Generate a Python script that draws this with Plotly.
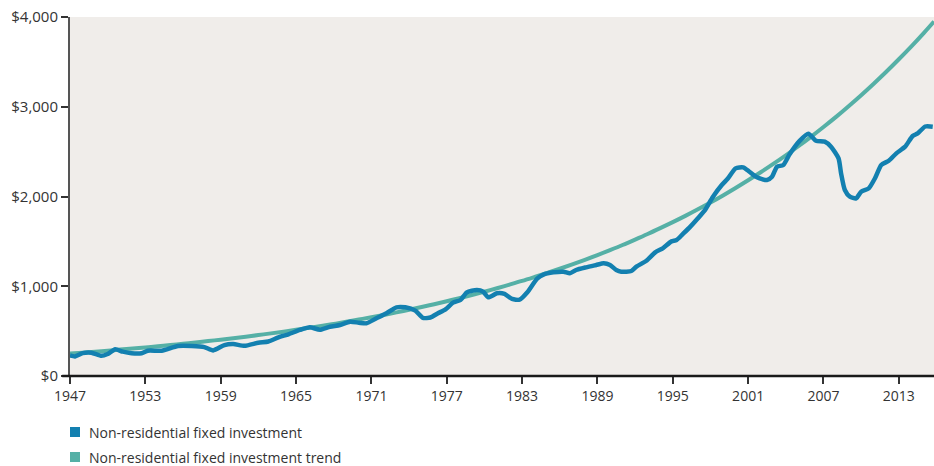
import plotly.graph_objects as go

# --- Data ($bn) ---
actual_years = [
    1947.0, 1947.4, 1948.0, 1948.7, 1949.5, 1950.0, 1950.6, 1951.2, 1951.9, 1952.7,
    1953.2, 1954.3, 1955.6, 1956.7, 1957.7, 1958.4, 1959.3, 1960.0, 1960.9, 1962.0,
    1962.8, 1963.6, 1964.4, 1965.3, 1966.1, 1966.9, 1967.7, 1968.5, 1969.3, 1970.0,
    1970.6, 1971.4, 1972.2, 1973.0, 1973.7, 1974.5, 1975.1, 1975.7, 1976.3, 1976.9,
    1977.5, 1978.1, 1978.6, 1979.4, 1979.9, 1980.3, 1981.0, 1981.6, 1982.2, 1982.8,
    1983.4, 1984.2, 1984.7, 1985.5, 1986.3, 1986.8, 1987.3, 1988.1, 1988.9, 1989.5,
    1990.0, 1990.5, 1990.9, 1991.7, 1992.1, 1992.9, 1993.6, 1994.2, 1994.9, 1995.3,
    1995.8, 1996.4, 1997.0, 1997.6, 1998.2, 1998.9, 1999.4, 2000.0, 2000.6, 2001.1,
    2001.7, 2002.5, 2002.9, 2003.3, 2003.8, 2004.3, 2005.1, 2005.8, 2006.4, 2007.1,
    2007.6, 2008.2, 2008.4, 2008.7, 2009.1, 2009.6, 2010.0, 2010.6, 2011.1, 2011.6,
    2012.2, 2012.8, 2013.5, 2014.1, 2014.5, 2015.1, 2015.7,
]
actual_values = [
    228, 218, 255, 260, 225, 245, 297, 271, 253, 253,
    282, 282, 334, 334, 322, 285, 345, 356, 336, 371,
    385, 431, 465, 513, 543, 515, 549, 568, 605, 594,
    587, 643, 699, 765, 765, 728, 648, 652, 699, 743,
    817, 847, 932, 958, 939, 877, 921, 914, 858, 850,
    930, 1085, 1130, 1155, 1162, 1144, 1181, 1211, 1237, 1256,
    1237, 1181, 1162, 1170, 1218, 1285, 1378, 1423, 1500, 1515,
    1582, 1664, 1757, 1857, 1998, 2128, 2203, 2314, 2325, 2276,
    2214, 2184, 2221, 2332, 2351, 2470, 2620, 2700, 2622, 2611,
    2555, 2425, 2258, 2072, 1998, 1979, 2053, 2090, 2203, 2351,
    2399, 2481, 2555, 2674, 2704, 2780, 2778,
]

trend_years = list(range(1947, 2016)) + [2015.8]
trend_values = [
    250, 260, 271, 282, 294, 306, 318, 331, 345, 359,
    373, 389, 405, 421, 438, 456, 475, 494, 515, 536,
    558, 580, 604, 629, 655, 681, 709, 738, 769, 800,
    833, 867, 902, 939, 978, 1018, 1059, 1103, 1148, 1195,
    1244, 1295, 1348, 1403, 1460, 1520, 1582, 1647, 1714, 1784,
    1857, 1933, 2012, 2095, 2181, 2270, 2363, 2459, 2560, 2665,
    2774, 2887, 3006, 3129, 3257, 3390, 3529, 3673, 3824, 3950,
]

x_ticks = list(range(1947, 2014, 6))
y_ticks = [0, 1000, 2000, 3000, 4000]
y_labels = ["$0", "$1,000", "$2,000", "$3,000", "$4,000"]

legend_names = ["Non-residential fixed investment", "Non-residential fixed investment trend"]
BLUE = "#1380b0"
TEAL = "#55b0a6"
FONT = "Open Sans"

fig = go.Figure()

# trend first so the actual series sits on top where they cross
fig.add_trace(go.Scatter(
    x=trend_years, y=trend_values, mode="lines",
    line=dict(color=TEAL, width=4, shape="spline"),
    name=legend_names[1], showlegend=False, hoverinfo="skip",
))
fig.add_trace(go.Scatter(
    x=actual_years, y=actual_values, mode="lines",
    line=dict(color=BLUE, width=4.5, shape="spline", smoothing=0.6),
    name=legend_names[0], showlegend=False, hoverinfo="skip",
))

fig.update_layout(
    width=934, height=466,
    margin=dict(l=70, r=0, t=17, b=90),
    paper_bgcolor="white",
    plot_bgcolor="#f0edea",
    font=dict(family=FONT, size=14, color="#333333"),
    showlegend=False,
)

fig.update_xaxes(
    range=[1947, 2015.8],
    tickvals=x_ticks,
    ticktext=[str(t) for t in x_ticks],
    ticks="outside", ticklen=7, tickwidth=1.5, tickcolor="#333333",
    showgrid=False, zeroline=False, showline=False,
    tickfont=dict(family=FONT, size=14, color="#333333"),
)
fig.update_yaxes(
    range=[0, 4000],
    tickvals=y_ticks, ticktext=y_labels,
    ticks="outside", ticklen=7, tickwidth=1.5, tickcolor="#333333",
    showgrid=False, zeroline=False,
    showline=True, linecolor="#555555", linewidth=2,
    tickfont=dict(family=FONT, size=15, color="#333333"),
)

# bottom axis rule, a bit past the y axis like the reference
fig.add_shape(type="line", xref="paper", yref="paper",
              x0=-0.009, x1=1, y0=0, y1=0,
              line=dict(color="#1a1a1a", width=2.5), layer="above")

# manual legend: small squares + labels below the plot
plot_w, plot_h = 864, 359
for i, (name, col) in enumerate(zip(legend_names, [BLUE, TEAL])):
    cy = 432 + 25 * i  # pixel centre of the row
    yc = -(cy - 376) / plot_h
    half = 5 / plot_h
    fig.add_shape(type="rect", xref="paper", yref="paper",
                  x0=0, x1=10 / plot_w, y0=yc - half, y1=yc + half,
                  fillcolor=col, line=dict(width=0))
    fig.add_annotation(text=name, xref="paper", yref="paper",
                       x=17 / plot_w, y=yc, xanchor="left", yanchor="middle",
                       showarrow=False,
                       font=dict(family=FONT, size=14, color="#333333"))

# page has a default 8px body margin; drop it so the figure fills the window
fig.write_html("out.html", config={"displayModeBar": False},
               post_script="document.body.style.margin='0';")
